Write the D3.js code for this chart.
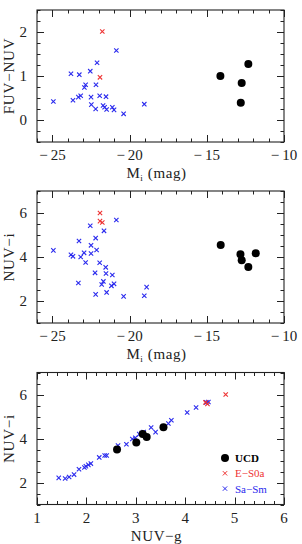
<!DOCTYPE html>
<html>
<head>
<meta charset="utf-8">
<script src="https://cdn.jsdelivr.net/npm/d3@7"></script>
<style>
  body { margin: 0; background: #fff; }
  text { font-family: "Liberation Serif", "DejaVu Serif", serif; fill: #222; }
</style>
</head>
<body>
<svg id="chart" width="302" height="544"></svg>
<script>
// panel 1: Mi vs FUV-NUV
var ucdMi1   = [-14.12, -12.74, -12.31, -12.80];
var ucdFN1   = [1.00, 0.84, 1.27, 0.39];
var eMi1     = [-21.77, -21.92];
var eFN1     = [2.01, 0.97];
var sMi1     = [-20.86, -22.11, -23.80, -23.26, -22.55, -22.85, -22.93, -22.18, -24.94, -23.67, -23.32, -23.17,
                -22.50, -21.94, -21.53, -22.48, -22.20, -21.72, -21.62, -21.49, -21.12, -21.01, -20.39, -19.05];
var sFN1     = [1.58, 1.30, 1.05, 1.03, 1.11, 0.80, 0.74, 0.80, 0.42, 0.45, 0.52, 0.55,
                0.52, 0.55, 0.53, 0.35, 0.25, 0.33, 0.29, 0.24, 0.29, 0.23, 0.14, 0.36];

// panel 2: Mi vs NUV-i
var ucdMi2   = [-14.10, -12.82, -12.74, -11.83, -12.31];
var ucdNi2   = [4.55, 4.12, 3.85, 4.17, 3.55];
var eMi2     = [-21.92, -21.92, -21.77];
var eNi2     = [6.00, 5.63, 5.57];
var sMi2     = [-20.86, -22.55, -21.66, -22.20, -23.28, -22.50, -22.14, -24.94, -23.80, -23.67, -22.95, -22.50,
                -23.17, -22.85, -21.94, -21.55, -22.24, -21.53, -21.12, -23.32, -21.70, -21.81, -21.01, -21.18,
                -18.90, -22.20, -21.49, -20.39, -19.05];
var sNi2     = [5.68, 5.42, 5.19, 4.86, 4.73, 4.53, 4.32, 4.30, 4.10, 4.03, 4.19, 4.16,
                4.00, 3.75, 3.74, 3.53, 3.28, 3.25, 3.18, 2.82, 2.89, 2.75, 2.78, 2.69,
                2.63, 2.30, 2.39, 2.21, 2.24];

// panel 3: NUV-g vs NUV-i
var ucdNg3   = [2.62, 3.01, 3.14, 3.22, 3.56];
var ucdNi3   = [3.50, 3.82, 4.20, 4.07, 4.51];
var eNg3     = [4.82, 4.41, 4.45];
var eNi3     = [6.00, 5.64, 5.57];
var sNg3     = [1.44, 1.57, 1.65, 1.75, 1.85, 1.96, 1.99, 2.04, 2.09, 2.26, 2.37, 2.41, 2.64, 2.81,
                2.93, 2.99, 3.07, 3.12, 3.16, 3.31, 3.40, 3.66, 3.72, 4.04, 4.22, 4.43, 4.47];
var sNi3     = [2.21, 2.18, 2.25, 2.36, 2.60, 2.68, 2.74, 2.80, 2.86, 3.14, 3.23, 3.23, 3.68, 3.74,
                3.98, 4.03, 4.20, 4.25, 4.29, 4.50, 4.29, 4.68, 4.83, 5.18, 5.41, 5.64, 5.66];

var legendLabels = ["UCD", "E\u2212S0a", "Sa\u2212Sm"];

var svg = d3.select('#chart');
var left = 37, right = 284;

function zip(a, b) { return a.map(function(v, i) { return [v, b[i]]; }); }

// values of step inside the domain
function stepVals(dom, step) {
  var out = [], k0 = Math.ceil(dom[0] / step - 1e-6), k1 = Math.floor(dom[1] / step + 1e-6);
  for (var k = k0; k <= k1; k++) out.push(+(k * step).toFixed(6));
  return out;
}

function drawPanel(o) {
  var x = d3.scaleLinear().domain(o.xdom).range([left, right]),
      y = d3.scaleLinear().domain(o.ydom).range([o.bottom, o.top]);
  var g = svg.append('g');
  var tg = g.append('g').attr('stroke', '#222').attr('stroke-width', 1);

  // minor + major ticks, inward, on all four sides
  function addTicks(scale, step, len, horiz) {
    stepVals(scale.domain(), step).forEach(function(v) {
      var p = Math.round(scale(v)) + 0.5;
      if (horiz) {
        tg.append('line').attr('x1', p).attr('x2', p).attr('y1', o.bottom).attr('y2', o.bottom - len);
        tg.append('line').attr('x1', p).attr('x2', p).attr('y1', o.top).attr('y2', o.top + len);
      } else {
        tg.append('line').attr('y1', p).attr('y2', p).attr('x1', left).attr('x2', left + len);
        tg.append('line').attr('y1', p).attr('y2', p).attr('x1', right).attr('x2', right - len);
      }
    });
  }
  addTicks(x, o.xminor, 3.5, true);
  addTicks(x, o.xmajor, 7, true);
  addTicks(y, o.yminor, 3.5, false);
  addTicks(y, o.ymajor, 7, false);

  g.append('rect').attr('x', left).attr('y', o.top).attr('width', right - left).attr('height', o.bottom - o.top)
   .attr('fill', 'none').attr('stroke', '#222').attr('stroke-width', 1.1);

  // tick labels
  stepVals(o.xdom, o.xmajor).forEach(function(v) {
    g.append('text').attr('x', x(v)).attr('y', o.bottom + 18).attr('text-anchor', 'middle')
     .style('font-size', '15px').text(String(v).replace('-', '\u2212\u2009'));
  });
  stepVals(o.ydom, o.ymajor).forEach(function(v) {
    g.append('text').attr('x', left - 10).attr('y', y(v) + 5).attr('text-anchor', 'end')
     .style('font-size', '15px').text(v);
  });

  // axis titles
  var xt = g.append('text').attr('x', (left + right) / 2 - 4).attr('y', o.bottom + 36)
            .attr('text-anchor', 'middle').style('font-size', '15px').style('letter-spacing', '0.6px');
  if (o.xsub) {
    xt.append('tspan').text('M');
    xt.append('tspan').attr('dy', 3).style('font-size', '9px').text('i');
    xt.append('tspan').attr('dy', -3).text(' (mag)');
  } else xt.text(o.xtitle);
  g.append('text').attr('transform', 'translate(14,' + (o.top + o.bottom) / 2 + ') rotate(-90)')
   .attr('text-anchor', 'middle').style('font-size', '15px').style('letter-spacing', '0.8px').text(o.ytitle);

  var cross = d3.symbol(d3.symbolTimes).size(14);
  g.selectAll('.s').data(zip(o.sx, o.sy)).enter().append('path')
   .attr('d', cross).attr('transform', function(d) { return 'translate(' + x(d[0]) + ',' + y(d[1]) + ')'; })
   .attr('fill', 'none').attr('stroke', '#2a2aee').attr('stroke-width', 1.1);
  g.selectAll('.e').data(zip(o.ex, o.ey)).enter().append('path')
   .attr('d', cross).attr('transform', function(d) { return 'translate(' + x(d[0]) + ',' + y(d[1]) + ')'; })
   .attr('fill', 'none').attr('stroke', '#ee3333').attr('stroke-width', 1.1);
  g.selectAll('.u').data(zip(o.ux, o.uy)).enter().append('circle')
   .attr('cx', function(d) { return x(d[0]); }).attr('cy', function(d) { return y(d[1]); })
   .attr('r', 4).attr('fill', '#000');
  return { x: x, y: y, g: g };
}

drawPanel({ top: 10, bottom: 142, xdom: [-26, -10], ydom: [-0.5, 2.5], xmajor: 5, xminor: 1, ymajor: 1, yminor: 0.25,
            xsub: true, ytitle: 'FUV\u2212NUV', ux: ucdMi1, uy: ucdFN1, ex: eMi1, ey: eFN1, sx: sMi1, sy: sFN1 });
drawPanel({ top: 191, bottom: 323, xdom: [-26, -10], ydom: [1, 7], xmajor: 5, xminor: 1, ymajor: 2, yminor: 0.5,
            xsub: true, ytitle: 'NUV\u2212i', ux: ucdMi2, uy: ucdNi2, ex: eMi2, ey: eNi2, sx: sMi2, sy: sNi2 });
var p3 = drawPanel({ top: 372.5, bottom: 504.5, xdom: [1, 6], ydom: [1, 7], xmajor: 1, xminor: 0.2, ymajor: 2, yminor: 0.5,
            xsub: false, xtitle: 'NUV\u2212g', ytitle: 'NUV\u2212i', ux: ucdNg3, uy: ucdNi3, ex: eNg3, ey: eNi3, sx: sNg3, sy: sNi3 });

// legend
var lg = p3.g.append('g').attr('transform', 'translate(225,458)');
var legendColors = ['#000', '#ee3333', '#2a2aee'];
legendLabels.forEach(function(t, i) {
  var row = lg.append('g').attr('transform', 'translate(0,' + i * 15.3 + ')');
  if (i === 0) row.append('circle').attr('r', 4).attr('fill', '#000');
  else row.append('path').attr('d', d3.symbol(d3.symbolTimes).size(14)).attr('fill', 'none')
          .attr('stroke', legendColors[i]).attr('stroke-width', 1);
  row.append('text').attr('x', 10).attr('y', 4).style('font-size', '11px').style('font-weight', i === 0 ? 'bold' : 'normal')
     .style('fill', legendColors[i]).text(t);
});
</script>
</body>
</html>
